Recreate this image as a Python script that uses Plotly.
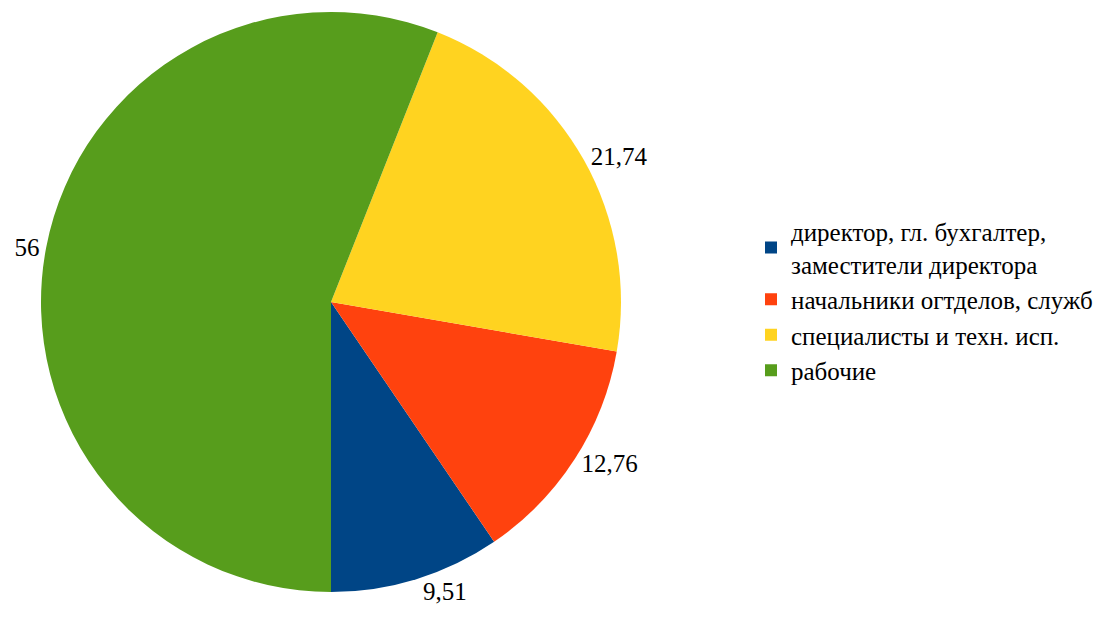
import plotly.graph_objects as go

labels = ["директор, гл. бухгалтер,<br>заместители директора",
          "начальники огтделов, служб",
          "специалисты и техн. исп.",
          "рабочие"]
values = [9.51, 12.76, 21.74, 56]
value_text = ["9,51", "12,76", "21,74", "56"]
colors = ["#004586", "#ff420e", "#ffd320", "#579d1c"]

W, H = 1107, 617
SERIF = "Liberation Serif, Times New Roman, serif"
# first slice starts at 6 o'clock and runs counterclockwise
rotation = 180 - 360 * values[0] / sum(values)

fig = go.Figure(go.Pie(
    labels=labels,
    values=values,
    text=value_text,
    texttemplate="%{text}",
    textposition="outside",
    textfont=dict(family=SERIF, size=25, color="black"),
    sort=False,
    direction="counterclockwise",
    rotation=rotation,
    marker=dict(colors=colors, line=dict(width=0)),
    domain=dict(x=[33 / W, 613 / W], y=[1 - 584 / H, 1 - 4 / H]),
    hoverinfo="label+value",
))

fig.update_layout(
    width=W, height=H,
    margin=dict(l=0, r=0, t=0, b=0),
    paper_bgcolor="white",
    plot_bgcolor="white",
    showlegend=True,
    legend=dict(
        x=743 / W, y=1 - 293 / H, xanchor="left", yanchor="middle",
        font=dict(family=SERIF, size=25, color="black"),
        tracegroupgap=2, itemsizing="constant",
    ),
)

fig.write_html("out.html")
